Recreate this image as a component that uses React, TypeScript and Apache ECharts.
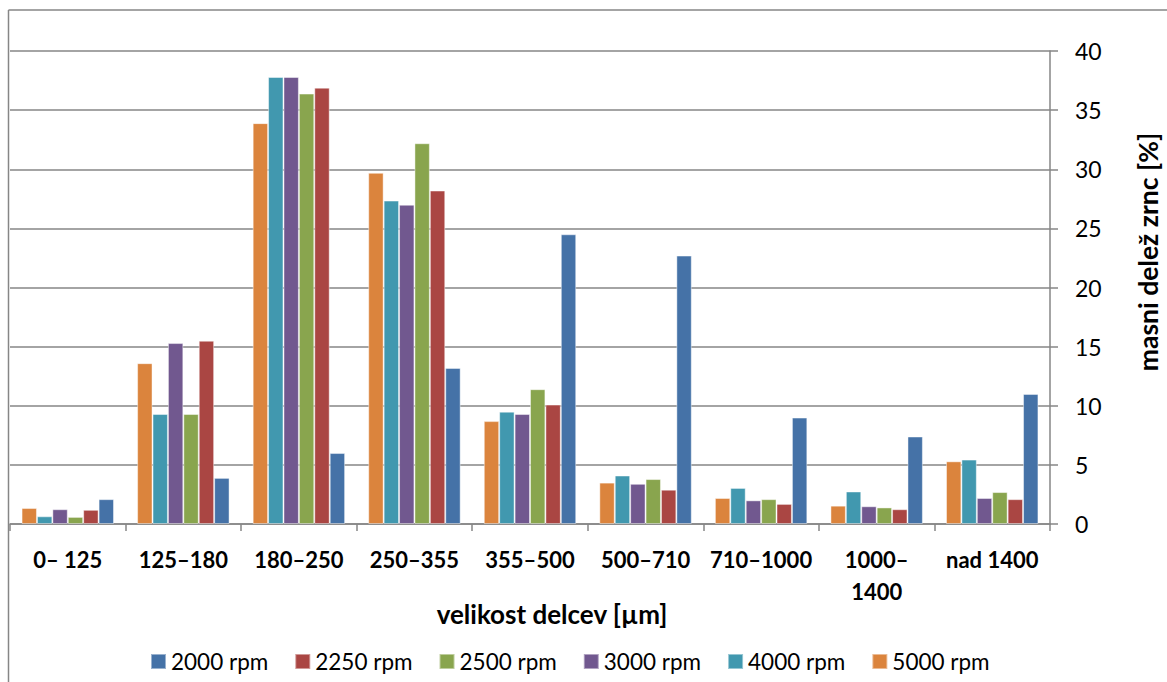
import React, { useEffect, useRef } from "react";
import * as echarts from "echarts";

// Particle size classes (µm)
const categories = [
  "0– 125",
  "125–180",
  "180–250",
  "250–355",
  "355–500",
  "500–710",
  "710–1000",
  "1000–\n1400",
  "nad 1400",
];

// Mass fraction of grains [%] per rotor speed
const rpm2000 = [2.1, 3.9, 6.0, 13.2, 24.5, 22.7, 9.0, 7.4, 11.0];
const rpm2250 = [1.2, 15.5, 36.9, 28.2, 10.1, 2.9, 1.7, 1.25, 2.1];
const rpm2500 = [0.6, 9.3, 36.4, 32.2, 11.4, 3.8, 2.1, 1.4, 2.7];
const rpm3000 = [1.25, 15.3, 37.8, 27.0, 9.3, 3.4, 2.0, 1.5, 2.2];
const rpm4000 = [0.65, 9.3, 37.8, 27.35, 9.5, 4.1, 3.05, 2.75, 5.45];
const rpm5000 = [1.35, 13.6, 33.9, 29.7, 8.7, 3.5, 2.2, 1.55, 5.3];

const legendOrder = ["2000 rpm", "2250 rpm", "2500 rpm", "3000 rpm", "4000 rpm", "5000 rpm"];

// Bars are drawn left to right from the fastest speed to the slowest
const seriesDefs = [
  { name: "5000 rpm", data: rpm5000, color: "#DB843D" },
  { name: "4000 rpm", data: rpm4000, color: "#4198AF" },
  { name: "3000 rpm", data: rpm3000, color: "#71588F" },
  { name: "2500 rpm", data: rpm2500, color: "#89A54E" },
  { name: "2250 rpm", data: rpm2250, color: "#AA4643" },
  { name: "2000 rpm", data: rpm2000, color: "#4572A7" },
];

const FONT = "Lato, 'Open Sans', sans-serif";
const AXIS_GRAY = "#868686";

export default function App() {
  const ref = useRef<HTMLDivElement>(null);

  useEffect(() => {
    document.body.style.margin = "0";
    if (!ref.current) return;
    const chart = echarts.init(ref.current, null, { renderer: "svg" });

    chart.setOption({
      animation: false,
      backgroundColor: "#ffffff",
      textStyle: { fontFamily: FONT },
      grid: { left: 10, right: 117, top: 51, bottom: 158 },
      legend: {
        data: legendOrder,
        left: 150,
        top: 650,
        padding: 0,
        icon: "rect",
        itemWidth: 15,
        itemHeight: 15,
        itemGap: 26,
        textStyle: { fontFamily: FONT, fontSize: 22.5, color: "#000" },
      },
      xAxis: {
        type: "category",
        data: categories,
        axisLine: { show: true, lineStyle: { color: AXIS_GRAY, width: 1.5 } },
        axisTick: { show: true, length: 7, lineStyle: { color: AXIS_GRAY, width: 1.5 } },
        axisLabel: {
          interval: 0,
          margin: 19,
          fontFamily: FONT,
          fontSize: 22,
          fontWeight: "bold",
          color: "#000",
          lineHeight: 32,
          verticalAlign: "top",
        },
      },
      yAxis: {
        type: "value",
        position: "right",
        min: 0,
        max: 40,
        interval: 5,
        axisLine: { show: true, lineStyle: { color: AXIS_GRAY, width: 1.5 } },
        axisTick: { show: true, length: 8, lineStyle: { color: AXIS_GRAY, width: 1.5 } },
        splitLine: { show: true, lineStyle: { color: AXIS_GRAY, width: 1.5 } },
        axisLabel: {
          margin: 25,
          fontFamily: FONT,
          fontSize: 23,
          color: "#000",
        },
      },
      series: seriesDefs.map((s) => ({
        type: "bar",
        name: s.name,
        data: s.data,
        barGap: "0%",
        barCategoryGap: "20%",
        itemStyle: {
          color: s.color,
          borderColor: "rgba(255,255,255,0.45)",
          borderWidth: 1,
        },
      })),
      graphic: [
        // outer chart frame
        {
          type: "line",
          shape: { x1: 8.5, y1: 10, x2: 1167, y2: 10 },
          style: { stroke: AXIS_GRAY, lineWidth: 1.5 },
        },
        {
          type: "line",
          shape: { x1: 8.5, y1: 10, x2: 8.5, y2: 682 },
          style: { stroke: AXIS_GRAY, lineWidth: 1.5 },
        },
        {
          type: "text",
          x: 552,
          y: 614,
          style: {
            text: "velikost delcev [µm]",
            fontFamily: FONT,
            fontSize: 26,
            fontWeight: "bold",
            fill: "#000",
            align: "center",
            verticalAlign: "middle",
          },
        },
        {
          type: "text",
          x: 1148,
          y: 252,
          rotation: Math.PI / 2,
          style: {
            text: "masni delež zrnc [%]",
            fontFamily: FONT,
            fontSize: 26.5,
            fontWeight: "bold",
            fill: "#000",
            align: "center",
            verticalAlign: "middle",
          },
        },
      ],
    });

    return () => chart.dispose();
  }, []);

  return <div ref={ref} style={{ width: 1167, height: 682 }} />;
}
